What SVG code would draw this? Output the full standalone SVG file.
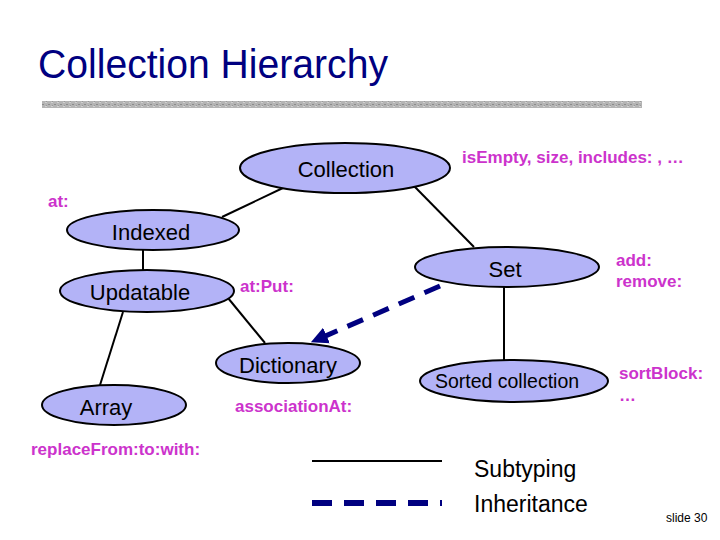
<svg xmlns="http://www.w3.org/2000/svg" width="720" height="540" viewBox="0 0 720 540">
<style>
.node{fill:#b3b3f7;stroke:#000;stroke-width:2}
.lbl{font-family:"Liberation Sans",Arial,sans-serif;font-size:22px;fill:#000;text-anchor:middle}
.msg{font-family:"Liberation Sans",Arial,sans-serif;font-size:17px;font-weight:bold;fill:#cc33cc}
.sub{stroke:#000;stroke-width:2;fill:none}
.inh{stroke:#000080;stroke-width:5;fill:none;stroke-dasharray:17 11}
.leg{font-family:"Liberation Sans",Arial,sans-serif;font-size:23px;fill:#000}
</style>
<defs>
<pattern id="tex" width="6" height="4" patternUnits="userSpaceOnUse">
<rect width="6" height="4" fill="#b4b4b4"/>
<rect x="0" y="0" width="2" height="1" fill="#8c8c8c"/>
<rect x="3" y="2" width="2" height="1" fill="#d0d0d0"/>
<rect x="4" y="1" width="1" height="1" fill="#999"/>
</pattern>
<marker id="ah" viewBox="0 0 10 10" refX="8" refY="5" markerWidth="3.4" markerHeight="3.4" orient="auto">
<path d="M0,0 L10,5 L0,10 z" fill="#000080"/>
</marker>
</defs>
<rect width="720" height="540" fill="#fff"/>
<text x="38" y="78" font-family="Liberation Sans,Arial,sans-serif" font-size="40" fill="#000080" textLength="350" lengthAdjust="spacingAndGlyphs">Collection Hierarchy</text>
<rect x="42" y="101" width="600" height="7" fill="url(#tex)"/>
<g id="connectors">
<line class="sub" x1="285" y1="187" x2="222" y2="217"/>
<line class="sub" x1="414" y1="186" x2="474" y2="247"/>
<line class="sub" x1="143" y1="250" x2="143" y2="270"/>
<line class="sub" x1="123" y1="312" x2="100" y2="385"/>
<line class="sub" x1="228" y1="298" x2="265" y2="343"/>
<line class="sub" x1="504" y1="287" x2="504" y2="360"/>
<line class="inh" x1="440" y1="286" x2="314" y2="341" marker-end="url(#ah)"/>
</g>
<g id="collection"><ellipse class="node" cx="345" cy="168" rx="105" ry="25"/><text class="lbl" x="346" y="177">Collection</text></g>
<g id="indexed"><ellipse class="node" cx="153" cy="230" rx="86" ry="20"/><text class="lbl" x="151" y="240">Indexed</text></g>
<g id="updatable"><ellipse class="node" cx="147" cy="291" rx="87" ry="21"/><text class="lbl" x="140" y="300">Updatable</text></g>
<g id="set"><ellipse class="node" cx="507" cy="267" rx="92" ry="20"/><text class="lbl" x="505" y="277">Set</text></g>
<g id="dictionary"><ellipse class="node" cx="288" cy="363" rx="72" ry="20"/><text class="lbl" x="288" y="373">Dictionary</text></g>
<g id="array"><ellipse class="node" cx="114" cy="405" rx="72" ry="20"/><text class="lbl" x="106" y="415">Array</text></g>
<g id="sorted"><ellipse class="node" cx="514" cy="381" rx="94" ry="21"/><text class="lbl" x="507" y="388" style="font-size:19.5px">Sorted collection</text></g>
<g id="messages">
<text class="msg" x="462" y="163">isEmpty, size, includes: , …</text>
<text class="msg" x="48" y="207">at:</text>
<text class="msg" x="240" y="292">at:Put:</text>
<text class="msg" x="616" y="266">add:</text>
<text class="msg" x="616" y="287">remove:</text>
<text class="msg" x="235" y="412">associationAt:</text>
<text class="msg" x="31" y="455">replaceFrom:to:with:</text>
<text class="msg" x="619" y="379">sortBlock:</text>
<text class="msg" x="619" y="401">…</text>
</g>
<g id="legend">
<line class="sub" x1="312" y1="461" x2="442" y2="461"/>
<line x1="312" y1="503" x2="442" y2="503" stroke="#000080" stroke-width="6" stroke-dasharray="20 12"/>
<text class="leg" x="474" y="477">Subtyping</text>
<text class="leg" x="474" y="512">Inheritance</text>
<text x="666" y="522" font-family="Liberation Sans,Arial,sans-serif" font-size="12" fill="#000">slide 30</text>
</g>
</svg>
